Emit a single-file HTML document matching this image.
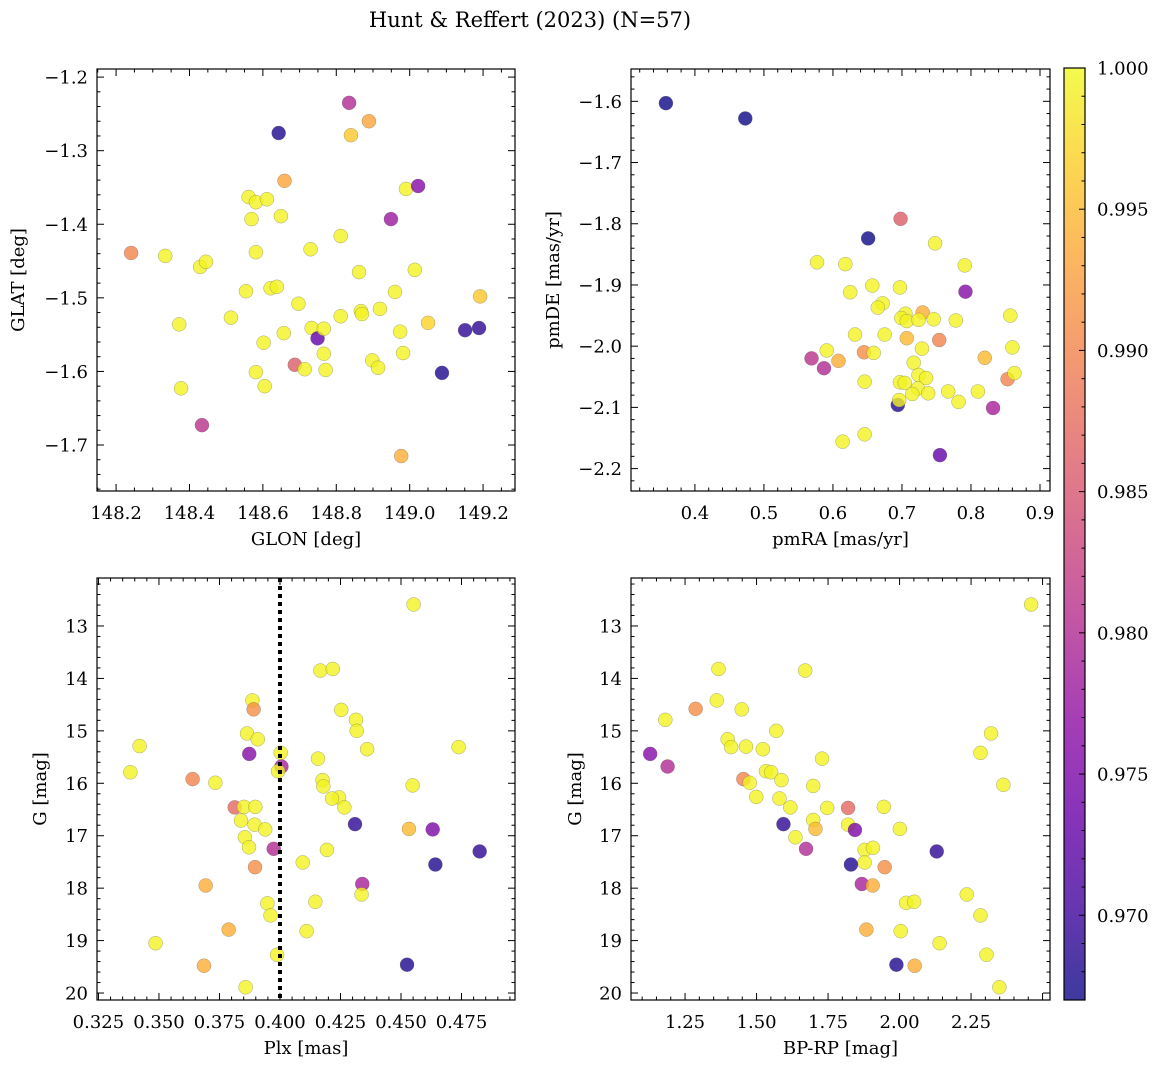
<!DOCTYPE html>
<html><head><meta charset="utf-8">
<style>
html,body{margin:0;padding:0;background:#fff;}
svg text{font-family:"DejaVu Serif","Liberation Serif",serif;fill:#000;}
</style></head>
<body>
<svg id="fig" width="1161" height="1068" viewBox="0 0 1161 1068" xmlns="http://www.w3.org/2000/svg">
<rect width="1161" height="1068" fill="#fff"/>
<text x="530" y="27" font-size="21" text-anchor="middle">Hunt &amp; Reffert (2023) (N=57)</text>
</svg>
<script>
// ---- data: top-left (GLON, GLAT) ----
const glon = [148.241,148.334,148.429,148.445,148.372,148.377,148.434,148.513,148.554,148.561,148.569,148.581,148.611,148.581,148.581,148.602,148.605,148.649,148.621,148.638,148.643,148.659,148.657,148.687,148.697,148.714,148.730,148.733,148.749,148.766,148.766,148.771,148.812,148.812,148.835,148.840,148.862,148.867,148.870,148.898,148.914,148.919,148.889,148.949,148.990,149.023,148.960,148.974,148.982,148.977,149.014,149.050,149.088,149.151,149.189,149.192];
const glat = [-1.439,-1.443,-1.458,-1.451,-1.536,-1.623,-1.673,-1.527,-1.491,-1.363,-1.393,-1.370,-1.366,-1.438,-1.601,-1.561,-1.620,-1.389,-1.487,-1.485,-1.276,-1.341,-1.548,-1.591,-1.508,-1.597,-1.434,-1.541,-1.555,-1.542,-1.576,-1.598,-1.416,-1.525,-1.235,-1.279,-1.465,-1.518,-1.522,-1.585,-1.595,-1.515,-1.260,-1.393,-1.352,-1.348,-1.492,-1.546,-1.575,-1.715,-1.462,-1.534,-1.602,-1.544,-1.541,-1.498];
const probTL = [0.990,0.9995,0.9995,0.9995,0.9995,0.9995,0.981,0.9995,0.9995,0.9995,0.9995,0.9995,0.9995,0.9995,0.9995,0.9995,0.9995,0.9995,0.9995,0.9995,0.968,0.993,0.9995,0.986,0.9995,0.9995,0.9995,0.9995,0.973,0.9995,0.9995,0.9995,0.9995,0.9995,0.980,0.996,0.9995,0.9995,0.9995,0.9995,0.9995,0.9995,0.993,0.978,0.9995,0.976,0.9995,0.9995,0.9995,0.994,0.9995,0.997,0.968,0.969,0.969,0.996];
// ---- data: top-right (pmRA, pmDE) ----
const pmra = [0.358,0.473,0.698,0.651,0.748,0.577,0.618,0.791,0.657,0.697,0.625,0.792,0.672,0.665,0.730,0.705,0.699,0.707,0.724,0.746,0.778,0.857,0.632,0.675,0.707,0.754,0.729,0.860,0.591,0.645,0.659,0.569,0.608,0.820,0.587,0.717,0.724,0.735,0.853,0.863,0.646,0.697,0.704,0.723,0.715,0.738,0.767,0.810,0.782,0.694,0.696,0.832,0.646,0.614,0.755];
const pmde = [-1.603,-1.628,-1.792,-1.824,-1.832,-1.863,-1.866,-1.868,-1.901,-1.904,-1.912,-1.911,-1.930,-1.937,-1.945,-1.947,-1.954,-1.959,-1.957,-1.956,-1.958,-1.950,-1.981,-1.981,-1.987,-1.990,-2.004,-2.002,-2.007,-2.010,-2.011,-2.020,-2.024,-2.019,-2.036,-2.027,-2.047,-2.052,-2.054,-2.044,-2.058,-2.059,-2.060,-2.069,-2.078,-2.077,-2.074,-2.074,-2.091,-2.096,-2.088,-2.101,-2.144,-2.156,-2.178];
const probTR = [0.967,0.967,0.986,0.967,0.9995,0.9995,0.9995,0.9995,0.9995,0.9995,0.9995,0.976,0.9995,0.9995,0.994,0.9995,0.9995,0.9995,0.9995,0.9995,0.9995,0.9995,0.9995,0.9995,0.995,0.990,0.9995,0.9995,0.9995,0.991,0.9995,0.981,0.994,0.995,0.980,0.9995,0.9995,0.9995,0.990,0.9995,0.9995,0.9995,0.9995,0.9995,0.9995,0.9995,0.9995,0.9995,0.9995,0.968,0.9995,0.979,0.9995,0.9995,0.973];
// ---- data: bottom-left (Plx, G) ----
const plx = [0.4552,0.4167,0.4218,0.3886,0.3891,0.4253,0.4314,0.4317,0.3864,0.3908,0.3420,0.4738,0.4360,0.3873,0.4003,0.4157,0.4006,0.3992,0.3382,0.3639,0.3733,0.4176,0.4179,0.4548,0.4244,0.4215,0.4266,0.3813,0.3851,0.3898,0.3839,0.3895,0.3939,0.4310,0.4533,0.4631,0.3855,0.3872,0.3974,0.4194,0.4825,0.4094,0.4642,0.3897,0.3693,0.4340,0.4337,0.3948,0.4146,0.3961,0.3788,0.4110,0.3486,0.3988,0.3686,0.4525,0.3858];
const gBL = [12.59,13.85,13.82,14.42,14.59,14.60,14.79,15.00,15.05,15.16,15.29,15.31,15.35,15.44,15.42,15.53,15.68,15.77,15.79,15.92,15.99,15.94,16.06,16.04,16.27,16.29,16.46,16.46,16.45,16.45,16.71,16.79,16.88,16.78,16.87,16.88,17.03,17.22,17.25,17.27,17.30,17.51,17.55,17.60,17.95,17.92,18.12,18.29,18.26,18.52,18.79,18.82,19.05,19.27,19.48,19.46,19.89];
const probBL = [0.9995,0.9995,0.9995,0.9995,0.991,0.9995,0.9995,0.9995,0.9995,0.9995,0.9995,0.9995,0.9995,0.976,0.9995,0.9995,0.979,0.9995,0.9995,0.990,0.9995,0.9995,0.9995,0.9995,0.9995,0.9995,0.9995,0.987,0.9995,0.9995,0.9995,0.9995,0.9995,0.969,0.995,0.975,0.9995,0.9995,0.980,0.9995,0.969,0.9995,0.968,0.991,0.994,0.979,0.9995,0.9995,0.9995,0.9995,0.994,0.9995,0.9995,0.9995,0.994,0.968,0.9995];
// ---- data: bottom-right (BP-RP, G) ----
const bprp = [2.460,1.367,1.670,1.361,1.287,1.448,1.181,1.569,2.320,1.399,1.411,1.463,1.522,1.128,2.283,1.729,1.189,1.533,1.551,1.454,1.476,1.587,1.698,2.363,1.580,1.499,1.618,1.747,1.820,1.945,1.698,1.820,1.594,1.706,1.844,2.001,1.636,1.673,1.878,1.907,2.130,1.878,1.830,1.948,1.868,1.906,2.235,2.023,2.051,2.283,1.884,2.004,2.140,2.304,2.053,1.989,2.349];
const gBR = [12.59,13.82,13.85,14.42,14.58,14.59,14.79,15.00,15.05,15.16,15.31,15.30,15.35,15.44,15.42,15.53,15.68,15.77,15.79,15.92,15.99,15.94,16.05,16.03,16.29,16.26,16.46,16.47,16.47,16.45,16.70,16.79,16.78,16.87,16.89,16.87,17.03,17.25,17.27,17.23,17.30,17.51,17.55,17.60,17.92,17.95,18.12,18.28,18.26,18.52,18.79,18.82,19.05,19.27,19.48,19.46,19.89];
const probBR = [0.9995,0.9995,0.9995,0.9995,0.991,0.9995,0.9995,0.9995,0.9995,0.9995,0.9995,0.9995,0.9995,0.976,0.9995,0.9995,0.980,0.9995,0.9995,0.990,0.9995,0.9995,0.9995,0.9995,0.9995,0.9995,0.9995,0.9995,0.987,0.9995,0.9995,0.9995,0.969,0.995,0.975,0.9995,0.9995,0.980,0.9995,0.9995,0.969,0.9995,0.968,0.991,0.979,0.994,0.9995,0.9995,0.9995,0.9995,0.994,0.9995,0.9995,0.9995,0.994,0.968,0.9995];
// ---- tick labels ----
const ticksGLON = [148.2,148.4,148.6,148.8,149.0,149.2];
const ticksGLAT = [-1.2,-1.3,-1.4,-1.5,-1.6,-1.7];
const ticksPMRA = [0.4,0.5,0.6,0.7,0.8,0.9];
const ticksPMDE = [-1.6,-1.7,-1.8,-1.9,-2.0,-2.1,-2.2];
const ticksPLX = [0.325,0.350,0.375,0.400,0.425,0.450,0.475];
const ticksG = [13,14,15,16,17,18,19,20];
const ticksBPRP = [1.25,1.50,1.75,2.00,2.25];
const ticksCB = [0.970,0.975,0.980,0.985,0.990,0.995,1.000];
const vmin = 0.967, vmax = 1.0;
const plxCut = 0.400;

const NS = 'http://www.w3.org/2000/svg';
const svg = document.getElementById('fig');
function mk(tag, attrs, parent) {
  const e = document.createElementNS(NS, tag);
  for (const k in attrs) e.setAttribute(k, attrs[k]);
  (parent || svg).appendChild(e);
  return e;
}
const stops = ['#0d0887','#41049d','#6a00a8','#8f0da4','#b12a90','#cc4778','#e16462','#f2844b','#fca636','#fcce25','#f0f921'];
function hex(h){return [parseInt(h.substr(1,2),16),parseInt(h.substr(3,2),16),parseInt(h.substr(5,2),16)];}
function plasma(t){
  t = Math.max(0, Math.min(1, t));
  const f = t*10, i = Math.min(9, Math.floor(f)), r = f - i;
  const a = hex(stops[i]), b = hex(stops[i+1]);
  return 'rgb(' + a.map((v,k)=>Math.round(v+(b[k]-v)*r)).join(',') + ')';
}
function colorOf(p){ return plasma((p - vmin)/(vmax - vmin)); }
const TF = 18, LF = 18;

function panel(cfg) {
  const g = mk('g', {});
  
  
  const {x0,x1,y0,y1,xd,yd,invY} = cfg;
  const sx = v => x0 + (v - xd[0])/(xd[1]-xd[0])*(x1-x0);
  const sy = invY ? (v => y0 + (v - yd[0])/(yd[1]-yd[0])*(y1-y0)) : (v => y1 - (v - yd[0])/(yd[1]-yd[0])*(y1-y0));
  const pg = mk('g', {}, g);
  
  
  for (let i = 0; i < cfg.xs.length; i++) {
    const c = mk('circle', {cx: sx(cfg.xs[i]), cy: sy(cfg.ys[i]), r: 7, fill: colorOf(cfg.ps[i]), 'fill-opacity': 0.8, stroke: '#555', 'stroke-opacity': 0.5, 'stroke-width': 0.5}, pg);
    
    
  }
  if (cfg.vline !== undefined) {
    const l = mk('line', {x1: sx(cfg.vline), x2: sx(cfg.vline), y1: y0, y2: y1, stroke: '#000', 'stroke-width': 4, 'stroke-dasharray': '4 4'}, g);
    
    
  }
  const tk = mk('g', {stroke: '#000', 'stroke-width': 1}, g);
  
  
  const xmin = Math.min(...xd), xmax = Math.max(...xd), ymin = Math.min(...yd), ymax = Math.max(...yd);
  for (let k = Math.ceil(xmin/cfg.xminor - 1e-6); k*cfg.xminor <= xmax + 1e-9; k++) {
    const v = k*cfg.xminor, X = sx(v);
    const isMaj = Math.abs(v/cfg.xmajor - Math.round(v/cfg.xmajor)) < 1e-4;
    const L = isMaj ? 7 : 3.5;
    mk('line', {x1: X, x2: X, y1: y1, y2: y1 - L}, tk);
    mk('line', {x1: X, x2: X, y1: y0, y2: y0 + L}, tk);
  }
  for (let k = Math.ceil(ymin/cfg.yminor - 1e-6); k*cfg.yminor <= ymax + 1e-9; k++) {
    const v = k*cfg.yminor, Y = sy(v);
    const isMaj = Math.abs(v/cfg.ymajor - Math.round(v/cfg.ymajor)) < 1e-4;
    const L = isMaj ? 7 : 3.5;
    mk('line', {x1: x0, x2: x0 + L, y1: Y, y2: Y}, tk);
    mk('line', {x1: x1, x2: x1 - L, y1: Y, y2: Y}, tk);
  }
  const fr = mk('rect', {x: x0, y: y0, width: x1-x0, height: y1-y0, fill: 'none', stroke: '#000', 'stroke-width': 1.2}, g);
  
  
  cfg.xticks.forEach(v => {
    const t = mk('text', {x: sx(v), y: y1 + 28, 'font-size': TF, 'text-anchor': 'middle'}, g);
    
    
    t.textContent = v.toFixed(cfg.xdec);
  });
  cfg.yticks.forEach(v => {
    const t = mk('text', {x: x0 - 9, y: sy(v) + 6.5, 'font-size': TF, 'text-anchor': 'end'}, g);
    
    
    t.textContent = (v < 0 ? '\u2212' + Math.abs(v).toFixed(cfg.ydec) : v.toFixed(cfg.ydec));
  });
  const xl = mk('text', {x: (x0+x1)/2, y: y1 + 54, 'font-size': LF, 'text-anchor': 'middle'}, g);
  
  
  xl.textContent = cfg.xlabel;
  const yl = mk('text', {x: 0, y: 0, 'font-size': LF, 'text-anchor': 'middle', transform: 'translate(' + cfg.ylx + ',' + (y0+y1)/2 + ') rotate(-90)'}, g);
  
  
  yl.textContent = cfg.ylabel;
}

panel({name:'glon-glat-panel', x0:97,x1:515,y0:69,y1:491, xd:[148.148,149.287], yd:[-1.7625,-1.189], xs:glon, ys:glat, ps:probTL,
  xmajor:0.2, xminor:0.05, ymajor:0.1, yminor:0.02, xticks:ticksGLON, yticks:ticksGLAT, xdec:1, ydec:1, xlabel:'GLON [deg]', ylabel:'GLAT [deg]', ylx:24});
panel({name:'pm-panel', x0:631,x1:1050,y0:69,y1:491, xd:[0.3074,0.9145], yd:[-2.2366,-1.5472], xs:pmra, ys:pmde, ps:probTR,
  xmajor:0.1, xminor:0.02, ymajor:0.1, yminor:0.02, xticks:ticksPMRA, yticks:ticksPMDE, xdec:1, ydec:1, xlabel:'pmRA [mas/yr]', ylabel:'pmDE [mas/yr]', ylx:559});
panel({name:'plx-g-panel', x0:97,x1:515,y0:578,y1:1000, xd:[0.3244,0.4971], yd:[12.085,20.133], invY:true, xs:plx, ys:gBL, ps:probBL,
  xmajor:0.025, xminor:0.005, ymajor:1, yminor:0.2, xticks:ticksPLX, yticks:ticksG, xdec:3, ydec:0, xlabel:'Plx [mas]', ylabel:'G [mag]', ylx:46, vline:plxCut});
panel({name:'cmd-panel', x0:631,x1:1050,y0:578,y1:1000, xd:[1.061,2.526], yd:[12.085,20.133], invY:true, xs:bprp, ys:gBR, ps:probBR,
  xmajor:0.25, xminor:0.05, ymajor:1, yminor:0.2, xticks:ticksBPRP, yticks:ticksG, xdec:2, ydec:0, xlabel:'BP-RP [mag]', ylabel:'G [mag]', ylx:581});

(function(){
  const cx0 = 1064, cx1 = 1085, cy0 = 68, cy1 = 1000;
  const cb = mk('g', {});
  
  
  const defs = mk('defs', {}, cb);
  const lg = mk('linearGradient', {id: 'cbgrad', x1: 0, y1: 1, x2: 0, y2: 0}, defs);
  for (let i = 0; i <= 20; i++) mk('stop', {offset: i/20, 'stop-color': plasma(i/20)}, lg);
  mk('rect', {x: cx0, y: cy0, width: cx1-cx0, height: cy1-cy0, fill: 'url(#cbgrad)', 'fill-opacity': 0.8}, cb);
  const sy = v => cy1 - (v - vmin)/(vmax - vmin)*(cy1 - cy0);
  for (let k = Math.ceil(vmin/0.001 - 1e-6); k*0.001 <= vmax + 1e-9; k++) {
    const v = k*0.001, Y = sy(v);
    const maj = Math.abs(v/0.005 - Math.round(v/0.005)) < 1e-4;
    mk('line', {x1: cx1, x2: cx1 - (maj ? 6 : 3.5), y1: Y, y2: Y, stroke: '#000', 'stroke-width': 1}, cb);
  }
  mk('rect', {x: cx0, y: cy0, width: cx1-cx0, height: cy1-cy0, fill: 'none', stroke: '#000', 'stroke-width': 1.2}, cb);
  ticksCB.forEach(v => {
    const t = mk('text', {x: 1097, y: sy(v) + 6.5, 'font-size': TF}, cb);
    
    
    t.textContent = v.toFixed(3);
  });
})();
</script>
</body></html>
